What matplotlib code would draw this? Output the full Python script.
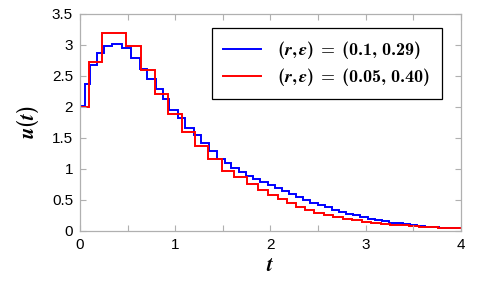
import matplotlib
matplotlib.use("Agg")
import matplotlib.pyplot as plt

# ---- data ----
blue_edges = [0.0, 0.052, 0.104, 0.181, 0.252, 0.332, 0.437, 0.532, 0.631, 0.708,
              0.796, 0.868, 0.939, 1.026, 1.104, 1.195, 1.273, 1.36, 1.441, 1.518,
              1.59, 1.67, 1.745, 1.82, 1.895, 1.97, 2.045, 2.12, 2.195, 2.27,
              2.345, 2.42, 2.495, 2.57, 2.645, 2.72, 2.795, 2.87, 2.945, 3.02,
              3.095, 3.17, 3.245, 3.32, 3.395, 3.47, 3.545, 3.62, 3.695, 3.77,
              3.845, 3.92, 4.0]
blue_vals = [2.01, 2.36, 2.67, 2.87, 2.98, 3.02, 2.95, 2.79, 2.61, 2.45,
             2.28, 2.12, 1.95, 1.82, 1.66, 1.54, 1.41, 1.29, 1.16, 1.10,
             1.01, 0.95, 0.89, 0.83, 0.78, 0.74, 0.69, 0.64, 0.59, 0.54,
             0.495, 0.45, 0.41, 0.375, 0.34, 0.305, 0.275, 0.245, 0.215, 0.19,
             0.17, 0.15, 0.13, 0.115, 0.10, 0.085, 0.075, 0.065, 0.058, 0.05,
             0.045, 0.04]

red_edges = [0.0, 0.094, 0.227, 0.479, 0.637, 0.788, 0.927, 1.068, 1.209, 1.349,
             1.49, 1.62, 1.75, 1.87, 1.97, 2.08, 2.17, 2.27, 2.36, 2.46,
             2.56, 2.66, 2.76, 2.86, 2.96, 3.06, 3.16, 3.26, 3.36, 3.46,
             3.56, 3.66, 3.76, 3.86, 4.0]
red_vals = [2.0, 2.72, 3.19, 2.98, 2.59, 2.21, 1.88, 1.59, 1.37, 1.15,
            0.97, 0.87, 0.76, 0.655, 0.575, 0.505, 0.44, 0.385, 0.33, 0.29,
            0.255, 0.225, 0.195, 0.17, 0.145, 0.125, 0.11, 0.095, 0.083, 0.07,
            0.062, 0.054, 0.047, 0.04]

labels = [r'$(r,\varepsilon)\;=\;(0.1,\,0.29)$',
          r'$(r,\varepsilon)\;=\;(0.05,\,0.40)$']

x_ticks = [0, 0.5, 1, 1.5, 2, 2.5, 3, 3.5, 4]
x_ticklabels = ['0', '', '1', '', '2', '', '3', '', '4']
y_ticks = [0, 0.5, 1, 1.5, 2, 2.5, 3, 3.5]
y_ticklabels = ['0', '0.5', '1', '1.5', '2', '2.5', '3', '3.5']

plt.rcParams['mathtext.fontset'] = 'custom'
plt.rcParams['mathtext.rm'] = 'cmb10'
plt.rcParams['mathtext.bf'] = 'cmb10'
plt.rcParams['mathtext.it'] = 'STIXGeneral:italic:bold'
plt.rcParams['mathtext.fallback'] = 'cm'
plt.rcParams['font.family'] = ['Liberation Sans', 'DejaVu Sans']

fig = plt.figure(figsize=(4.79, 2.84), dpi=100)
ax = fig.add_axes([0.167, 0.188, 0.795, 0.763])

ax.stairs(blue_vals, blue_edges, color='#0000ff', lw=1.4, label=labels[0], baseline=None)
ax.stairs(red_vals, red_edges, color='#ff0000', lw=1.4, label=labels[1], baseline=None)

ax.set_xlim(0, 4)
ax.set_ylim(0, 3.5)
ax.set_xticks(x_ticks)
ax.set_xticklabels(x_ticklabels)
ax.set_yticks(y_ticks)
ax.set_yticklabels(y_ticklabels)
ax.tick_params(direction='in', top=True, right=True, length=4, width=0.8,
               color='#b0b0b0', labelsize=11, pad=5)
for s in ax.spines.values():
    s.set_color('#b0b0b0')
    s.set_linewidth(0.9)

ax.set_xlabel(r'$t$', fontsize=15, labelpad=3)
ax.set_ylabel(r'$u(t)$', fontsize=15, labelpad=8)

leg = ax.legend(loc='upper right', bbox_to_anchor=(0.95, 0.934), borderaxespad=0,
                fontsize=13, frameon=True, fancybox=False, edgecolor='black',
                framealpha=1, handlelength=2.1, borderpad=0.62, labelspacing=0.25,
                handletextpad=0.9)
leg.get_frame().set_linewidth(0.9)

fig.savefig('out.png', dpi=100)
